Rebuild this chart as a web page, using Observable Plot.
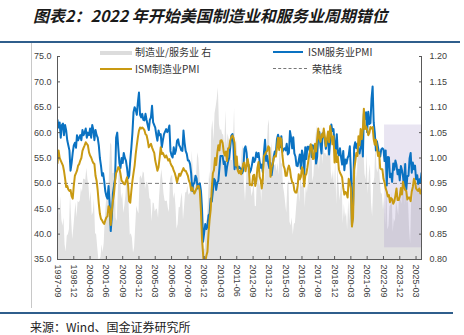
<!DOCTYPE html>
<html>
<head>
<meta charset="utf-8">
<script src="https://cdn.jsdelivr.net/npm/d3@7"></script>
<script src="https://cdn.jsdelivr.net/npm/@observablehq/plot@0.6"></script>
<style>
  html, body { margin: 0; padding: 0; background: #fff; }
  #wrap { position: relative; width: 464px; height: 335px; overflow: hidden; background: #fff;
          font-family: "Noto Sans CJK SC", "Liberation Sans", sans-serif; }
  #wrap svg { position: absolute; left: 0; top: 0; }
  .abs { position: absolute; white-space: nowrap; }
  .lg { font-size: 10px; color: #333; line-height: 12px; }
</style>
</head>
<body>
<div id="wrap">
  <div class="abs" style="left:33px;top:4px;font-size:16px;font-weight:700;font-style:italic;color:#1a1a1a;line-height:22px;">图表2：2022 年开始美国制造业和服务业周期错位</div>
  <div class="abs" style="left:0;top:41px;width:460px;height:2px;background:#2f5e8c;"></div>
  <div class="abs" style="left:31px;top:43px;width:1px;height:265px;background:#c8c8c8;"></div>
  <div class="abs" style="left:0;top:312px;width:453px;height:2px;background:#2f5e8c;"></div>
  <div class="abs" style="left:30px;top:319px;font-size:12px;color:#222;line-height:16px;">来源：Wind、国金证券研究所</div>
</div>
<script>
// ---- data (monthly, 1997-09 .. 2025-08) ----
const startYear = 1997, startMonth = 9;

const ismServices = [
  62.5, 61.0, 62.0, 59.0,
  61.5, 61.8, 59.5, 61.5, 60.5, 58.5, 57.5, 56.5, 52.5, 54.0, 56.0, 57.5,
  58.0, 57.0, 59.5, 58.5, 59.0, 59.5, 58.5, 60.5, 59.5, 60.0, 60.8, 59.0,
  60.0, 59.5, 60.8, 59.0, 61.5, 60.5, 58.5, 60.5, 59.5, 59.0, 57.5, 55.0,
  53.5, 51.5, 52.0, 50.5, 48.5, 47.5, 47.0, 49.5, 46.0, 40.6, 43.5, 48.0,
  49.5, 51.0, 59.0, 60.0, 57.0, 54.0, 53.0, 55.0, 54.0, 56.0, 55.0, 54.5,
  53.0, 51.0, 51.5, 54.5, 57.0, 60.0, 64.0, 65.0, 64.5, 63.5, 66.0, 67.9,
  63.5, 63.0, 63.7, 62.5, 62.4, 63.7, 62.5, 61.5, 60.5, 62.5, 63.0, 65.3,
  62.0, 61.5, 61.0, 59.5, 58.4, 60.4, 59.5, 59.7, 57.1, 58.5, 59.7, 60.2,
  60.7, 60.1, 60.5, 61.4, 56.4, 55.5, 55.1, 57.1, 55.8, 56.5, 58.4, 58.7,
  57.5, 57.1, 56.5, 56.4, 60.4, 58.0, 56.4, 55.8, 54.5, 54.5, 53.8, 52.0,
  48.5, 50.0, 50.0, 51.5, 51.0, 49.0, 49.5, 50.0, 48.5, 45.0, 38.5, 40.3,
  42.0, 41.0, 41.5, 43.7, 44.0, 47.0, 46.4, 48.4, 50.9, 50.6, 48.7, 50.1,
  50.5, 53.0, 55.4, 55.4, 55.4, 53.8, 54.3, 51.5, 53.2, 54.3, 55.0, 57.1,
  59.4, 59.7, 57.3, 52.8, 54.6, 53.3, 52.7, 53.3, 53.0, 52.9, 52.0, 52.6,
  56.8, 57.3, 56.0, 53.5, 53.7, 52.1, 52.6, 53.7, 55.1, 54.2, 54.7, 56.1,
  55.2, 56.0, 54.4, 53.1, 53.7, 52.2, 56.0, 58.6, 54.4, 55.4, 53.9, 53.0,
  54.0, 51.6, 53.1, 55.2, 56.3, 56.0, 58.7, 59.6, 58.6, 57.1, 59.3, 56.2,
  56.7, 56.9, 56.5, 57.8, 55.7, 56.0, 60.3, 59.0, 56.9, 59.1, 55.9, 55.3,
  53.5, 53.4, 54.5, 55.7, 52.9, 56.5, 55.5, 51.4, 57.1, 54.8, 57.2, 57.2,
  56.5, 57.6, 55.2, 57.5, 56.9, 57.4, 53.9, 55.3, 59.8, 60.1, 57.4, 55.9,
  59.9, 59.5, 58.8, 56.8, 58.6, 59.1, 55.7, 58.5, 61.6, 60.3, 60.7, 57.6,
  56.7, 59.7, 56.1, 55.5, 56.9, 55.1, 53.7, 56.4, 52.6, 54.7, 53.9, 55.0,
  55.5, 57.3, 52.5, 41.8, 45.4, 57.1, 58.1, 56.9, 57.8, 56.6, 55.9, 57.2,
  58.7, 55.3, 63.7, 62.7, 64.0, 60.1, 64.1, 61.7, 61.9, 66.7, 69.1, 62.0,
  59.9, 56.5, 58.3, 57.1, 55.9, 55.3, 56.7, 56.9, 56.7, 54.4, 56.5, 49.6,
  55.2, 55.1, 51.2, 51.9, 50.3, 53.9, 52.7, 54.5, 53.6, 51.8, 52.7, 50.6,
  53.4, 52.6, 51.4, 49.4, 53.8, 48.8, 51.4, 51.5, 54.9, 56.0, 52.1, 54.1,
  52.8, 53.5, 50.8, 51.6, 49.9, 50.8, 50.1, 52.0
];

const ismManufacturing = [
  54.0, 56.5, 55.0, 54.5,
  54.0, 53.5, 52.5, 51.0, 49.3, 49.5, 48.8, 48.5, 48.7, 47.5, 47.0, 49.5,
  51.5, 52.0, 52.5, 53.5, 53.8, 54.5, 55.0, 56.4, 57.0, 57.5, 58.1, 57.8,
  57.5, 56.1, 55.5, 55.1, 54.5, 54.0, 53.8, 51.5, 50.5, 48.6, 46.0, 44.0,
  43.0, 42.7, 42.3, 42.0, 42.7, 43.3, 43.5, 45.5, 45.0, 41.8, 44.6, 46.5,
  48.0, 50.5, 52.0, 52.5, 53.2, 53.0, 51.9, 50.5, 50.3, 49.9, 49.8, 50.5,
  51.2, 49.5, 46.5, 46.2, 48.5, 50.5, 52.0, 53.5, 55.8, 57.5, 59.1, 60.4,
  61.0, 60.8, 61.0, 60.8, 60.5, 59.7, 59.5, 58.5, 57.1, 57.5, 57.8, 57.1,
  56.5, 56.0, 54.5, 53.5, 52.5, 53.2, 55.0, 57.1, 55.8, 56.0, 55.5, 55.1,
  55.5, 55.0, 54.5, 54.8, 54.0, 53.5, 53.2, 52.5, 52.0, 51.2, 50.2, 51.0,
  51.9, 51.5, 52.0, 52.5, 53.0, 52.5, 52.5, 52.0, 51.5, 50.5, 50.0, 48.6,
  49.2, 48.5, 48.0, 48.5, 49.0, 49.5, 49.5, 48.5, 44.5, 39.0, 36.0, 33.0,
  34.5, 35.8, 36.5, 40.1, 42.8, 44.8, 48.9, 52.0, 52.6, 55.0, 53.6, 55.9,
  57.5, 56.5, 58.4, 58.5, 58.0, 56.2, 55.5, 56.3, 54.4, 56.9, 57.0, 58.5,
  59.1, 59.4, 59.0, 58.0, 53.5, 55.3, 52.5, 52.0, 52.5, 51.8, 52.7, 53.9,
  54.1, 52.4, 53.4, 54.8, 53.5, 49.7, 49.8, 49.6, 51.5, 51.7, 49.5, 50.7,
  53.1, 54.2, 51.3, 50.7, 49.0, 50.9, 55.4, 55.7, 56.2, 56.4, 57.3, 57.0,
  51.3, 53.2, 53.7, 54.9, 55.4, 55.3, 57.1, 59.0, 56.6, 59.0, 58.7, 55.5,
  53.5, 52.9, 51.5, 51.5, 52.8, 53.5, 52.7, 51.1, 50.2, 50.1, 48.6, 48.2,
  48.2, 49.5, 51.8, 50.8, 51.3, 53.2, 52.6, 49.4, 51.5, 51.9, 53.2, 54.7,
  56.0, 57.7, 57.2, 54.8, 54.9, 57.8, 56.3, 58.8, 60.8, 58.7, 58.2, 59.7,
  59.1, 60.8, 59.3, 57.3, 58.7, 60.2, 58.1, 61.3, 59.8, 57.7, 59.3, 54.1,
  56.6, 54.2, 55.3, 52.8, 52.1, 51.7, 51.2, 49.1, 47.8, 48.3, 48.1, 47.2,
  50.9, 50.1, 49.1, 41.5, 43.1, 52.6, 54.2, 56.0, 55.4, 59.3, 57.5, 60.7,
  58.7, 60.8, 64.7, 60.7, 61.2, 60.6, 59.5, 59.9, 61.1, 60.8, 61.1, 58.7,
  57.6, 58.6, 57.1, 55.4, 56.1, 53.0, 52.8, 52.8, 50.9, 50.2, 49.0, 48.4,
  47.4, 47.7, 46.3, 47.1, 46.9, 46.0, 46.4, 47.6, 49.0, 46.7, 46.7, 47.4,
  49.1, 47.8, 50.3, 49.2, 48.7, 48.5, 46.8, 47.2, 47.2, 46.5, 48.4, 49.3,
  50.9, 50.3, 49.0, 48.7, 48.5, 49.0, 48.0, 48.7
];

const xTickLabels = ["1997-09","1998-12","2000-03","2001-06","2002-09","2003-12","2005-03","2006-06",
  "2007-09","2008-12","2010-03","2011-06","2012-09","2013-12","2015-03","2016-06","2017-09","2018-12",
  "2020-03","2021-06","2022-09","2023-12","2025-03"];
const leftTicks = [35, 40, 45, 50, 55, 60, 65, 70, 75];
const rightTicks = [0.80, 0.85, 0.90, 0.95, 1.00, 1.05, 1.10, 1.15, 1.20];
const boomBust = 50;
const shadeStart = "2022-10", shadeEnd = "2025-08";
const shadeRatio = [0.823, 1.065];

// ---- build ----
const parse = d3.utcParse("%Y-%m");
const rows = ismServices.map((s, i) => ({
  date: new Date(Date.UTC(startYear, startMonth - 1 + i, 1)),
  svc: s,
  mfg: ismManufacturing[i],
  ratio: ismManufacturing[i] / s
}));
// right axis (0.80..1.20) mapped onto left axis (35..75)
const r2l = r => 35 + (r - 0.8) / 0.4 * 40;
const l2r = v => 0.8 + (v - 35) / 40 * 0.4;

const xDomain = [rows[0].date, rows[rows.length - 1].date];
const axisStyle = {fontSize: 9, fill: "#404040", stroke: "#595959"};

const chart = Plot.plot({
  width: 464, height: 335,
  marginLeft: 57, marginRight: 43, marginTop: 56, marginBottom: 76,
  x: {type: "utc", domain: xDomain},
  y: {domain: [35, 75]},
  style: {fontFamily: "'Liberation Sans', 'Noto Sans CJK SC', sans-serif", fontSize: "9px", color: "#404040", background: "transparent"},
  marks: [
    Plot.areaY(rows, {x: "date", y1: 35, y2: d => r2l(d.ratio), fill: "#e1e1e1", clip: true}),
    Plot.rect([{x1: parse(shadeStart), x2: parse(shadeEnd), y1: r2l(shadeRatio[0]), y2: r2l(shadeRatio[1])}],
      {x1: "x1", x2: "x2", y1: "y1", y2: "y2", fill: "#9c88c4", fillOpacity: 0.22}),
    Plot.ruleY([boomBust], {stroke: "#7a7a7a", strokeWidth: 1, strokeDasharray: "4,3"}),
    Plot.lineY(rows, {x: "date", y: "svc", stroke: "#0a72c2", strokeWidth: 2, clip: true}),
    Plot.lineY(rows, {x: "date", y: "mfg", stroke: "#c99a12", strokeWidth: 2, clip: true}),
    Plot.ruleX([xDomain[0], xDomain[1]], {stroke: "#595959", strokeWidth: 1}),
    Plot.ruleY([35], {stroke: "#595959", strokeWidth: 1}),
    Plot.axisY({anchor: "left", ticks: leftTicks, tickFormat: d => d.toFixed(1), tickSize: -3, tickPadding: 9, label: null, ...axisStyle}),
    Plot.axisY({anchor: "right", ticks: rightTicks.map(r2l), tickFormat: v => l2r(v).toFixed(2), tickSize: -3, tickPadding: 11, label: null, ...axisStyle}),
    Plot.axisX({ticks: xTickLabels.map(parse), tickFormat: d3.utcFormat("%Y-%m"), tickRotate: 90, tickSize: -3, tickPadding: 8, label: null, ...axisStyle})
  ]
});

const wrap = document.getElementById("wrap");
wrap.insertBefore(chart, wrap.firstChild);

// legend (inside plot area, as in the reference)
const legend = [
  {x: 100, y: 52, label: "制造业/服务业 右", swatch: "background:#dcdcdc;height:4px;width:32px;"},
  {x: 273, y: 52, label: "ISM服务业PMI", swatch: "background:#0a72c2;height:2px;width:30px;", tx: 308},
  {x: 100, y: 69, label: "ISM制造业PMI", swatch: "background:#c99a12;height:2px;width:32px;"},
  {x: 273, y: 69, label: "荣枯线", swatch: "border-top:1px dashed #777;height:0;width:34px;", tx: 312}
];
for (const l of legend) {
  const sw = document.createElement("div");
  sw.className = "abs";
  sw.style.cssText += `left:${l.x}px;top:${l.y - 1}px;` + l.swatch;
  wrap.appendChild(sw);
  const t = document.createElement("div");
  t.className = "abs lg";
  t.style.left = (l.tx ?? 135) + "px";
  t.style.top = (l.y - 6) + "px";
  t.textContent = l.label;
  wrap.appendChild(t);
}
</script>
</body>
</html>
